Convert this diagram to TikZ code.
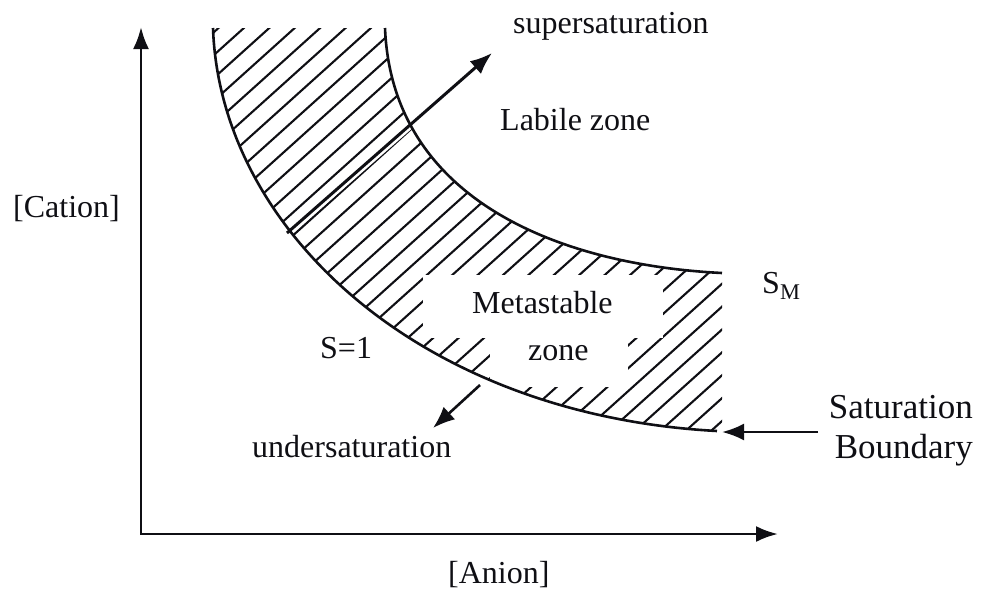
\documentclass[tikz,border=0pt]{standalone}
\usepackage{fontspec}
\setmainfont{Liberation Serif}
\usetikzlibrary{arrows.meta, positioning}
\definecolor{inkblack}{RGB}{15,15,20}
\tikzset{
  lbl/.style={font=\fontsize{32}{38}\selectfont, inner sep=0pt, anchor=base west, text=inkblack},
  biglbl/.style={font=\fontsize{35}{40}\selectfont, inner sep=0pt, align=right, text=inkblack},
  axis/.style={{Latex[length=22pt, width=16pt]}-{Latex[length=22pt, width=16pt]}, line width=2.8pt, color=inkblack},
  pointer/.style={-{Latex[length=22pt, width=17pt]}, line width=3pt, color=inkblack},
  boundary/.style={line width=2.6pt, color=inkblack},
  hatch/.style={line width=2.1pt, color=inkblack},
  mask/.style={fill=white, draw=none, inner sep=0pt}
}

\begin{document}
\begin{tikzpicture}[x=1pt, y=-1pt]
  \useasboundingbox (0,0) rectangle (984,590);

  % Axes
  \coordinate (ytip) at (141,27);
  \coordinate (origin) at (141,534);
  \coordinate (xtip) at (778,534);
  \draw[axis] (ytip) -- (origin) -- (xtip);

  % Hatched band between the two curves
  \begin{scope}
    \clip (385,28) .. controls (392,200) and (560,265) .. (722,273)
      -- (722,431) -- (717,431)
      .. controls (420,415) and (220,230) .. (213,28) -- cycle;
    \foreach \c in {150,167,...,830}
      \draw[hatch] ({\c*sin(42)-900*cos(42)},{\c*cos(42)+900*sin(42)}) -- ({\c*sin(42)+900*cos(42)},{\c*cos(42)-900*sin(42)});
  \end{scope}

  % White boxes behind the metastable label
  \node[mask, minimum width=240pt, minimum height=63pt] (metabox) at (543,306.5) {};
  \node[mask, minimum width=138pt, minimum height=49pt] (zonebox) at (559,362.5) {};

  % Supersaturation arrow (white gap first)
  \coordinate (supfoot) at (287,233);
  \coordinate (suptip) at (492,53);
  \draw[white, line width=8pt] (supfoot) -- (suptip);

  % Curves S_M and S=1
  \draw[boundary] (385,28) .. controls (392,200) and (560,265) .. (722,273);
  \draw[boundary] (213,28) .. controls (220,230) and (420,415) .. (717,431);

  \draw[pointer] (supfoot) -- (suptip);

  % Labels
  \node[lbl] (super) at (513,33) {supersaturation};
  \node[lbl] (labile) at (500,130) {Labile zone};
  \node[lbl] (meta) at (472,313) {Metastable};
  \node[lbl] (zone) at (528,360) {zone};
  \node[lbl] (sone) at (320,358) {S=1};
  \node[lbl] (sm) at (762,293) {S\textsubscript{M}};
  \node[lbl] (under) at (252,457) {undersaturation};
  \node[lbl] (cation) at (13,217) {[Cation]};
  \node[lbl] (anion) at (448,583) {[Anion]};
  \node[biglbl, anchor=base east] (satb) at (973,458) {Saturation\\Boundary};

  % Other arrows
  \coordinate (underfoot) at (480,385);
  \coordinate (undertip) at (433,428);
  \draw[pointer, line width=2.6pt] (underfoot) -- (undertip);
  \coordinate (satfoot) at (818,432);
  \coordinate (sattip) at (722,432);
  \draw[pointer, line width=2.6pt] (satfoot) -- (sattip);
\end{tikzpicture}
\end{document}
